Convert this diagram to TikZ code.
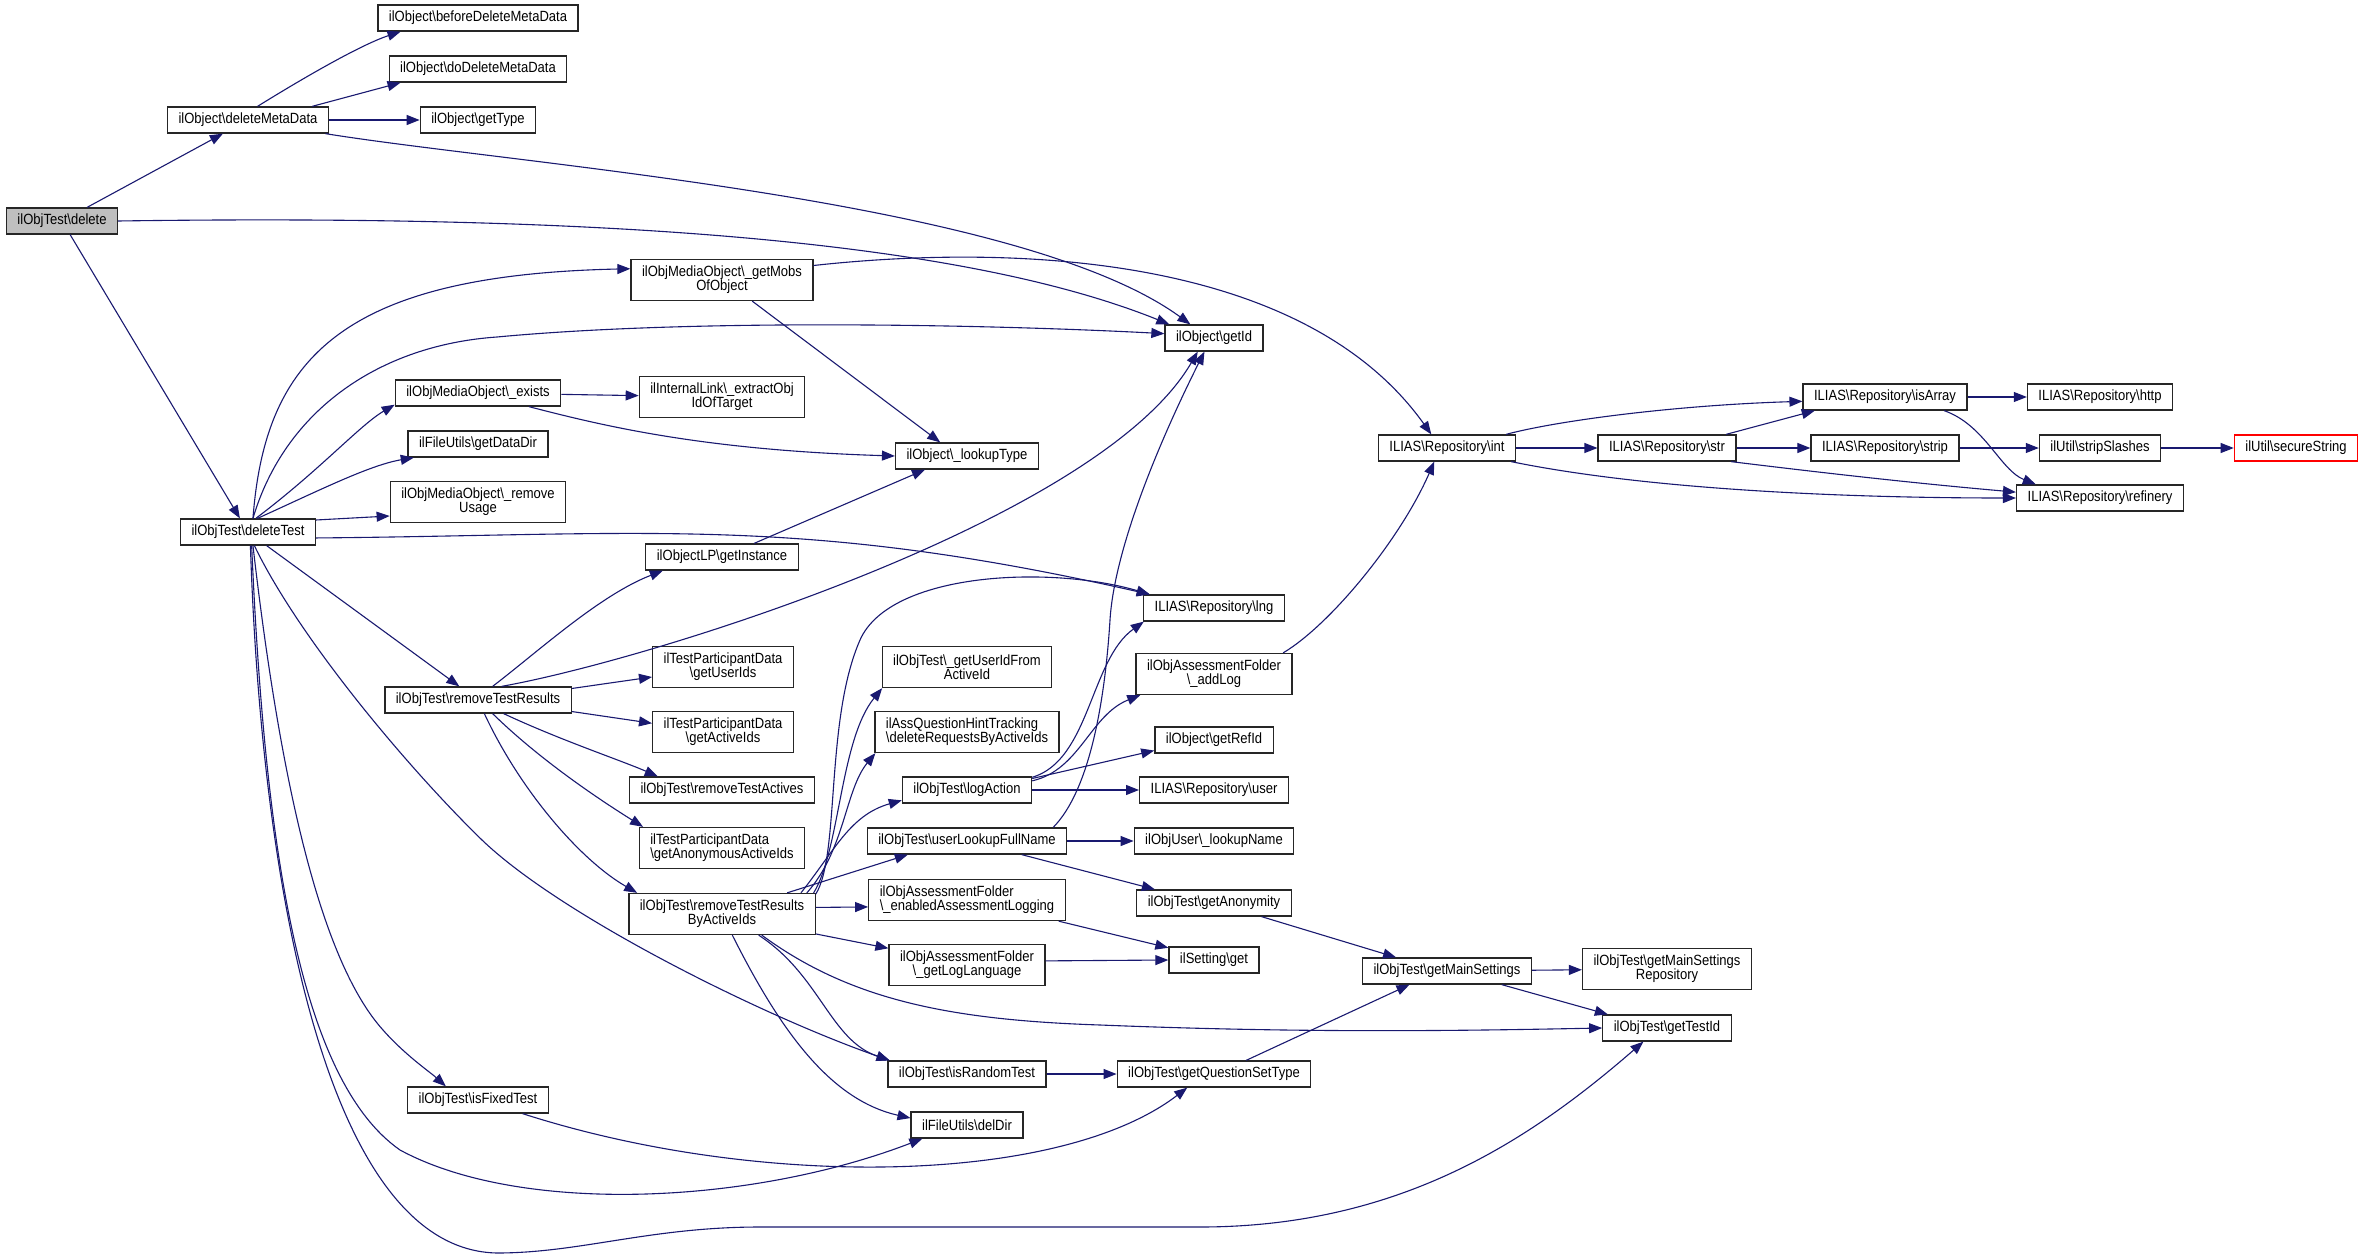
\documentclass[tikz,border=0pt]{standalone}
\usepackage{fontspec}
\setmainfont[FakeStretch=0.88]{Liberation Sans}
\usetikzlibrary{arrows.meta}
\definecolor{callblue}{HTML}{191970}
\definecolor{rootgray}{HTML}{BFBFBF}
\newcommand{\bsl}{\textbackslash}
\tikzset{
  fn/.style={draw=black!85, fill=white, line width=1.3pt, rectangle, inner xsep=11pt, inner ysep=2pt, minimum height=26pt, align=center, font=\fontsize{14.8}{14}\selectfont},
  fntall/.style={fn, minimum height=41pt},
  fnroot/.style={fn, fill=rootgray},
  fnmissing/.style={fn, draw=red},
  call/.style={draw=callblue, line width=1.1pt, -{Triangle[length=13pt,width=10pt]}}
}
\begin{document}
\begin{tikzpicture}[x=1pt,y=1pt]
\fill[white] (0,0) rectangle (2364,-1260);

\node[fnroot] (del) at (62,-221) {ilObjTest\bsl delete};
\node[fn] (delmeta) at (248,-120) {ilObject\bsl deleteMetaData};
\node[fn] (beforedel) at (478,-18) {ilObject\bsl beforeDeleteMetaData};
\node[fn] (dodel) at (478,-69) {ilObject\bsl doDeleteMetaData};
\node[fn] (gettype) at (478,-120) {ilObject\bsl getType};
\node[fn] (deltest) at (248,-532) {ilObjTest\bsl deleteTest};
\node[fntall] (getmobs) at (722,-280) {ilObjMediaObject\bsl\_getMobs\\OfObject};
\node[fn] (exists) at (478,-393) {ilObjMediaObject\bsl\_exists};
\node[fn] (datadir) at (478,-444) {ilFileUtils\bsl getDataDir};
\node[fntall] (remusage) at (478,-502) {ilObjMediaObject\bsl\_remove\\Usage};
\node[fn] (remres) at (478,-700) {ilObjTest\bsl removeTestResults};
\node[fn] (fixed) at (478,-1100) {ilObjTest\bsl isFixedTest};
\node[fntall] (extract) at (722,-397) {ilInternalLink\bsl\_extractObj\\IdOfTarget};
\node[fn] (getinst) at (722,-557) {ilObjectLP\bsl getInstance};
\node[fntall] (userids) at (723,-667) {ilTestParticipantData\\\bsl getUserIds};
\node[fntall] (activeids) at (723,-732) {ilTestParticipantData\\\bsl getActiveIds};
\node[fn] (remactives) at (722,-790) {ilObjTest\bsl removeTestActives};
\node[fntall, align=left] (anonids) at (722,-848) {ilTestParticipantData\\\bsl getAnonymousActiveIds};
\node[fntall] (remresids) at (722,-914) {ilObjTest\bsl removeTestResults\\ByActiveIds};
\node[fn] (lookuptype) at (967,-456) {ilObject\bsl\_lookupType};
\node[fntall] (useridfrom) at (967,-667) {ilObjTest\bsl\_getUserIdFrom\\ActiveId};
\node[fntall, align=left] (delreq) at (967,-732) {ilAssQuestionHintTracking\\\bsl deleteRequestsByActiveIds};
\node[fn] (logaction) at (967,-790) {ilObjTest\bsl logAction};
\node[fn] (fullname) at (967,-841) {ilObjTest\bsl userLookupFullName};
\node[fntall, align=left] (enabledlog) at (967,-900) {ilObjAssessmentFolder\\\bsl\_enabledAssessmentLogging};
\node[fntall] (loglang) at (967,-965) {ilObjAssessmentFolder\\\bsl\_getLogLanguage};
\node[fn] (random) at (967,-1074) {ilObjTest\bsl isRandomTest};
\node[fn] (deldir) at (967,-1125) {ilFileUtils\bsl delDir};
\node[fn] (getid) at (1214,-338) {ilObject\bsl getId};
\node[fn] (lng) at (1214,-608) {ILIAS\bsl Repository\bsl lng};
\node[fntall] (addlog) at (1214,-674) {ilObjAssessmentFolder\\\bsl\_addLog};
\node[fn] (refid) at (1214,-740) {ilObject\bsl getRefId};
\node[fn] (user) at (1214,-790) {ILIAS\bsl Repository\bsl user};
\node[fn] (lookupname) at (1214,-841) {ilObjUser\bsl\_lookupName};
\node[fn] (anonymity) at (1214,-903) {ilObjTest\bsl getAnonymity};
\node[fn] (setget) at (1214,-960) {ilSetting\bsl get};
\node[fn] (qstype) at (1214,-1074) {ilObjTest\bsl getQuestionSetType};
\node[fn] (int) at (1447,-448) {ILIAS\bsl Repository\bsl int};
\node[fn] (mainset) at (1447,-971) {ilObjTest\bsl getMainSettings};
\node[fn] (str) at (1667,-448) {ILIAS\bsl Repository\bsl str};
\node[fntall] (mainrepo) at (1667,-969) {ilObjTest\bsl getMainSettings\\Repository};
\node[fn] (testid) at (1667,-1028) {ilObjTest\bsl getTestId};
\node[fn] (isarray) at (1885,-397) {ILIAS\bsl Repository\bsl isArray};
\node[fn] (strip) at (1885,-448) {ILIAS\bsl Repository\bsl strip};
\node[fn] (http) at (2100,-397) {ILIAS\bsl Repository\bsl http};
\node[fn] (stripsl) at (2100,-448) {ilUtil\bsl stripSlashes};
\node[fn] (refinery) at (2100,-498) {ILIAS\bsl Repository\bsl refinery};
\node[fnmissing] (secure) at (2296,-448) {ilUtil\bsl secureString};

\foreach \src/\dst in {del/delmeta, del/deltest, delmeta.12/dodel.190, delmeta/gettype,
    deltest.10/remusage.189, deltest/remres, remres.7/userids.188, remres.-7/activeids.173,
    exists/extract, getmobs.-35/lookuptype.153, getinst.23/lookuptype.198,
    remresids.18/fullname.193, remresids.4/enabledlog.184, remresids.-12/loglang.168,
    logaction.10/refid.190, logaction/user, fullname/lookupname, fullname.-14/anonymity.167,
    enabledlog.-13/setget.165, loglang.3/setget.west, random/qstype, qstype.23/mainset.200,
    anonymity.-16/mainset.165, mainset/mainrepo, mainset.-14/testid.167, int/str,
    str.13/isarray.191, str/strip, isarray/http, strip/stripsl, stripsl/secure} {
  \draw[call] (\src) -- (\dst);
}

\draw[call] (delmeta.55) .. controls (300,-80) and (360,-45) .. (beforedel.190);
\draw[call] (delmeta.-10) .. controls (520,-165) and (1020,-200) .. (getid.150);
\draw[call] (del.east) .. controls (600,-214) and (960,-240) .. (getid.163);

\draw[call] (deltest.70) .. controls (265,-360) and (340,-275) .. (getmobs.173);
\draw[call] (deltest.70) .. controls (285,-410) and (380,-345) .. (497,-337) .. controls (700,-318) and (1000,-325) .. (getid.175);
\draw[call] (deltest.60) .. controls (320,-470) and (360,-425) .. (exists.188);
\draw[call] (deltest.55) .. controls (320,-490) and (370,-465) .. (datadir.192);
\draw[call] (deltest.-5) .. controls (650,-535) and (800,-515) .. (lng.168);
\draw[call] (deltest.-65) .. controls (300,-640) and (410,-770) .. (482,-840) .. controls (560,-915) and (760,-1015) .. (random.170);
\draw[call] (deltest.-70) .. controls (280,-780) and (320,-960) .. (383,-1030) .. controls (405,-1055) and (430,-1072) .. (fixed.157);
\draw[call] (deltest.-75) .. controls (265,-850) and (300,-1080) .. (400,-1150) .. controls (520,-1215) and (750,-1205) .. (deldir.197);
\draw[call] (deltest.-80) .. controls (262,-900) and (330,-1250) .. (497,-1253) .. controls (580,-1253) and (650,-1227) .. (760,-1227) -- (1200,-1227) .. controls (1400,-1227) and (1530,-1140) .. (testid.210);

\draw[call] (remres.43) .. controls (540,-650) and (600,-595) .. (getinst.193);
\draw[call] (remres.30) .. controls (650,-660) and (1100,-520) .. (getid.220);
\draw[call] (remres.-28) .. controls (560,-740) and (620,-760) .. (remactives.168);
\draw[call] (remres.-43) .. controls (540,-760) and (600,-800) .. (anonids.165);
\draw[call] (remres.-65) .. controls (520,-790) and (580,-860) .. (remresids.166);

\draw[call] (exists.-15) .. controls (600,-425) and (700,-450) .. (lookuptype.west);
\draw[call] (getmobs.9) .. controls (1000,-245) and (1300,-250) .. (int.139);

\draw[call] (remresids.12) .. controls (840,-855) and (825,-720) .. (860,-640) .. controls (890,-572) and (1050,-565) .. (lng.168);
\draw[call] (remresids.13) .. controls (840,-850) and (840,-740) .. (useridfrom.194);
\draw[call] (remresids.14) .. controls (845,-850) and (845,-790) .. (delreq.193);
\draw[call] (remresids.15) .. controls (835,-850) and (850,-815) .. (logaction.189);
\draw[call] (remresids.-30) .. controls (820,-975) and (830,-1040) .. (random.170);
\draw[call] (remresids.-28) .. controls (850,-1000) and (950,-1020) .. (1100,-1025) .. controls (1300,-1033) and (1450,-1031) .. (testid.west);
\draw[call] (remresids.-64) .. controls (780,-1030) and (830,-1100) .. (deldir.173);

\draw[call] (logaction.11) .. controls (1090,-760) and (1090,-660) .. (lng.191);
\draw[call] (logaction.8) .. controls (1080,-770) and (1090,-715) .. (addlog.196);
\draw[call] (fullname.9) .. controls (1090,-790) and (1105,-700) .. (1110,-620) .. controls (1115,-540) and (1170,-420) .. (getid.235);
\draw[call] (fixed.-17) .. controls (760,-1190) and (1060,-1185) .. (qstype.207);
\draw[call] (addlog.17) .. controls (1330,-625) and (1400,-540) .. (int.227);

\draw[call] (int.13) .. controls (1560,-420) and (1680,-405) .. (isarray.183);
\draw[call] (int.-12) .. controls (1650,-490) and (1850,-498) .. (refinery.west);
\draw[call] (str.-12) .. controls (1800,-470) and (1900,-482) .. (refinery.176);
\draw[call] (isarray.-13) .. controls (1985,-425) and (2000,-470) .. (refinery.168);
\end{tikzpicture}
\end{document}
